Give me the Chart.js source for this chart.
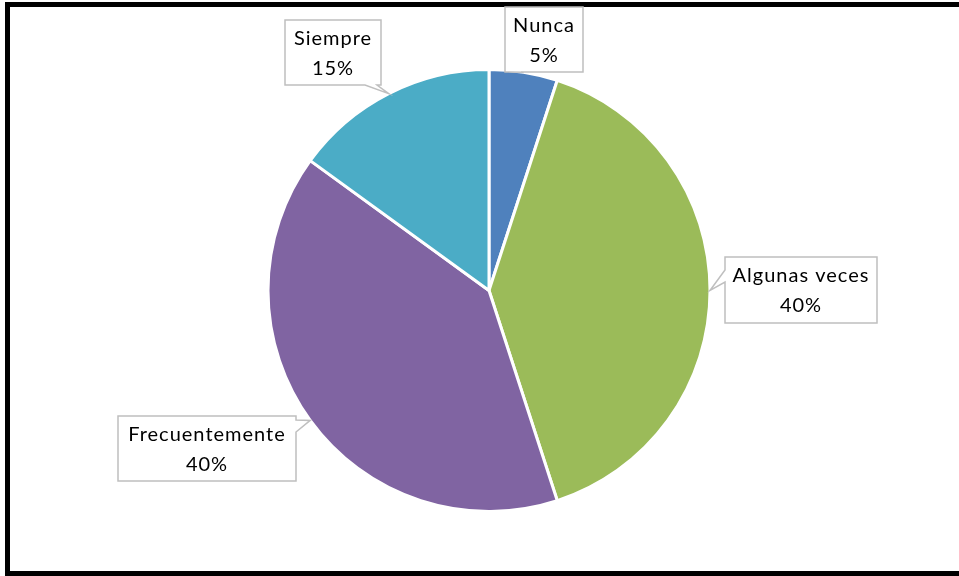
<!DOCTYPE html>
<html>
<head>
<meta charset="utf-8">
<script src="https://cdn.jsdelivr.net/npm/chart.js@4/dist/chart.umd.min.js"></script>
<style>
  html, body { margin: 0; padding: 0; background: #fff; overflow: hidden; }
  #frame {
    position: absolute; left: 5px; top: 2px; width: 1000px; height: 574px;
    box-sizing: border-box; border: 5px solid #000;
  }
  #pie { position: absolute; left: 0; top: 0; }
</style>
</head>
<body>
<div id="frame"></div>
<canvas id="pie" width="959" height="576"></canvas>
<script>
const categories = ["Nunca", "Algunas veces", "Frecuentemente", "Siempre"];
const percents = [5, 40, 40, 15];
const colors = ["#4F81BD", "#9BBB59", "#8064A2", "#4BACC6"];

// callout boxes (left, top, width, height), edge the pointer leaves from, and where along it
const callouts = [
    { x: 505, y: 7, w: 78, h: 65, side: "bottom", base: 515 },
    { x: 725, y: 257, w: 152, h: 66, side: "left", base: 276 },
    { x: 118, y: 416, w: 178, h: 65, side: "right", base: 426 },
    { x: 285, y: 20, w: 96, h: 65, side: "bottom", base: 371 }
];

function drawCallout(ctx, box, tip) {
    const { x, y, w, h, side, base } = box;
    const hw = 6;
    ctx.beginPath();
    ctx.moveTo(x, y);
    if (side === "top") { ctx.lineTo(base - hw, y); ctx.lineTo(tip.x, tip.y); ctx.lineTo(base + hw, y); }
    ctx.lineTo(x + w, y);
    if (side === "right") { ctx.lineTo(x + w, base - hw); ctx.lineTo(tip.x, tip.y); ctx.lineTo(x + w, base + hw); }
    ctx.lineTo(x + w, y + h);
    if (side === "bottom") { ctx.lineTo(base + hw, y + h); ctx.lineTo(tip.x, tip.y); ctx.lineTo(base - hw, y + h); }
    ctx.lineTo(x, y + h);
    if (side === "left") { ctx.lineTo(x, base + hw); ctx.lineTo(tip.x, tip.y); ctx.lineTo(x, base - hw); }
    ctx.closePath();
    ctx.fillStyle = "#fff";
    ctx.fill();
    ctx.strokeStyle = "#BFBFBF";
    ctx.lineWidth = 1.5;
    ctx.stroke();
}

const calloutPlugin = {
    id: "callouts",
    afterDatasetsDraw(chart) {
        const ctx = chart.ctx;
        const meta = chart.getDatasetMeta(0);
        ctx.save();
        meta.data.forEach((arc, i) => {
            const p = arc.getProps(["x", "y", "startAngle", "endAngle", "outerRadius"], true);
            const mid = (p.startAngle + p.endAngle) / 2;
            const tip = { x: p.x + Math.cos(mid) * p.outerRadius, y: p.y + Math.sin(mid) * p.outerRadius };
            const box = callouts[i];
            drawCallout(ctx, box, tip);
            ctx.fillStyle = "#000";
            ctx.font = "20px Lato";
            ctx.letterSpacing = "1px";
            ctx.textAlign = "center";
            ctx.textBaseline = "middle";
            const cx = box.x + box.w / 2;
            ctx.fillText(categories[i], cx, box.y + 19);
            ctx.fillText(percents[i] + "%", cx, box.y + 49);
        });
        ctx.restore();
    }
};

new Chart(document.getElementById("pie"), {
    type: "pie",
    data: {
        labels: categories,
        datasets: [{
            data: percents,
            backgroundColor: colors,
            borderColor: "#fff",
            borderWidth: 3
        }]
    },
    options: {
        responsive: false,
        devicePixelRatio: 1,
        animation: false,
        layout: { padding: { left: 100, right: 81, top: 68, bottom: 63 } },
        plugins: { legend: { display: false }, tooltip: { enabled: false } }
    },
    plugins: [calloutPlugin]
});
</script>
</body>
</html>
